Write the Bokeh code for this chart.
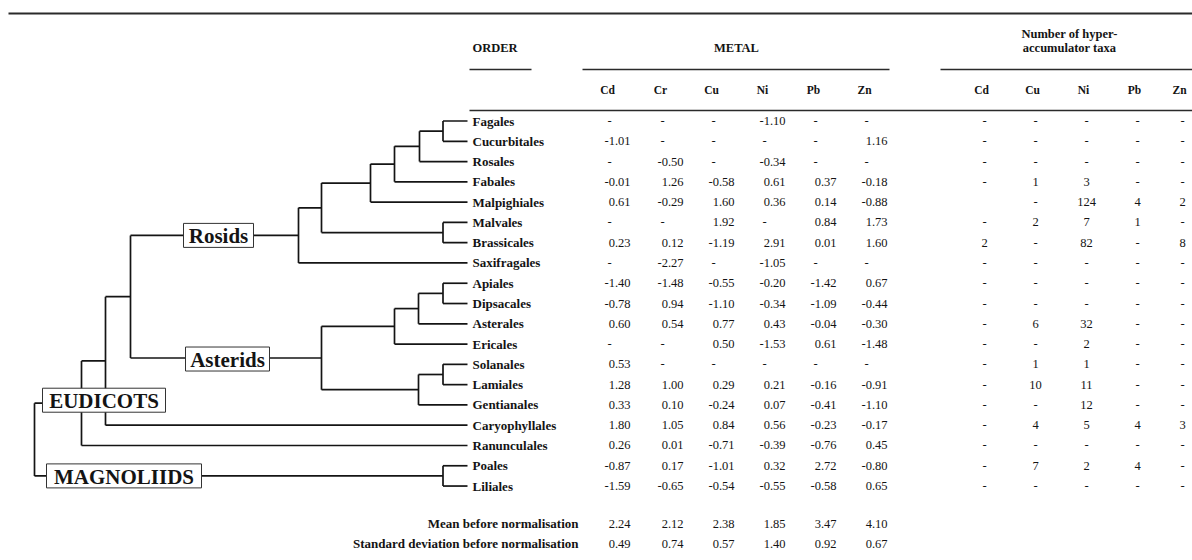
from bokeh.plotting import figure
from bokeh.models import Range1d, ColumnDataSource
from bokeh.embed import file_html
from bokeh.resources import INLINE
from bokeh.core.properties import value

# ---------------- data ----------------
orders = ["Fagales", "Cucurbitales", "Rosales", "Fabales", "Malpighiales",
          "Malvales", "Brassicales", "Saxifragales", "Apiales", "Dipsacales",
          "Asterales", "Ericales", "Solanales", "Lamiales", "Gentianales",
          "Caryophyllales", "Ranunculales", "Poales", "Liliales"]

metals = ["Cd", "Cr", "Cu", "Ni", "Pb", "Zn"]
N = None
metal_cd = [N, -1.01, N, -0.01, 0.61, N, 0.23, N, -1.40, -0.78, 0.60, N, 0.53, 1.28, 0.33, 1.80, 0.26, -0.87, -1.59]
metal_cr = [N, N, -0.50, 1.26, -0.29, N, 0.12, -2.27, -1.48, 0.94, 0.54, N, N, 1.00, 0.10, 1.05, 0.01, 0.17, -0.65]
metal_cu = [N, N, N, -0.58, 1.60, 1.92, -1.19, N, -0.55, -1.10, 0.77, 0.50, N, 0.29, -0.24, 0.84, -0.71, -1.01, -0.54]
metal_ni = [-1.10, N, -0.34, 0.61, 0.36, N, 2.91, -1.05, -0.20, -0.34, 0.43, -1.53, N, 0.21, 0.07, 0.56, -0.39, 0.32, -0.55]
metal_pb = [N, N, N, 0.37, 0.14, 0.84, 0.01, N, -1.42, -1.09, -0.04, 0.61, N, -0.16, -0.41, -0.23, -0.76, 2.72, -0.58]
metal_zn = [N, 1.16, N, -0.18, -0.88, 1.73, 1.60, N, 0.67, -0.44, -0.30, -1.48, N, -0.91, -1.10, -0.17, 0.45, -0.80, 0.65]

mean_before = [2.24, 2.12, 2.38, 1.85, 3.47, 4.10]
sd_before = [0.49, 0.74, 0.57, 1.40, 0.92, 0.67]

hyper_metals = ["Cd", "Cu", "Ni", "Pb", "Zn"]
# None = "-", "" = blank cell
hyp_cd = [N, N, N, N, "", N, 2, N, N, N, N, N, N, N, N, N, N, N, N]
hyp_cu = [N, N, N, 1, N, 2, N, N, N, N, 6, N, 1, 10, N, 4, N, 7, N]
hyp_ni = [N, N, N, 3, 124, 7, 82, N, N, N, 32, 2, 1, 11, 12, 5, N, 2, N]
hyp_pb = [N, N, N, N, 4, 1, N, N, N, N, N, N, N, N, N, 4, N, 4, N]
hyp_zn = [N, N, N, N, 2, N, 8, N, N, N, N, N, N, N, N, 3, N, N, N]

# cladogram topology: (clade label, node x, children)
tree = ("root", 34, [
    ("EUDICOTS", 81, [
        (None, 105, [
            (None, 130, [
                ("Rosids", 298, [
                    (None, 321, [
                        (None, 370, [
                            (None, 394, [
                                (None, 419, [
                                    (None, 442.5, ["Fagales", "Cucurbitales"]),
                                    "Rosales"]),
                                "Fabales"]),
                            "Malpighiales"]),
                        (None, 442.5, ["Malvales", "Brassicales"])]),
                    "Saxifragales"]),
                ("Asterids", 321, [
                    (None, 394, [
                        (None, 418, [
                            (None, 442.5, ["Apiales", "Dipsacales"]),
                            "Asterales"]),
                        "Ericales"]),
                    (None, 418, [
                        (None, 442.5, ["Solanales", "Lamiales"]),
                        "Gentianales"])])]),
            "Caryophyllales"]),
        "Ranunculales"]),
    ("MAGNOLIIDS", 442.5, ["Poales", "Liliales"])])

# ---------------- layout ----------------
ROW0, ROWH = 120.5, 20.28
row_y = {o: ROW0 + i * ROWH for i, o in enumerate(orders)}
LEAF_X = 467
LABEL_X = 472
metal_x = [607, 660, 711, 762, 813, 864]
hyper_x = [984, 1035, 1086, 1137, 1182]

FONT = value("Liberation Serif")
INK = "#141414"

p = figure(width=1192, height=560, x_range=Range1d(0, 1192), y_range=Range1d(560, 0),
           output_backend="svg", toolbar_location=None, min_border=0,
           x_axis_location=None, y_axis_location=None)
p.grid.visible = False
p.outline_line_color = None
p.background_fill_color = "white"
p.border_fill_color = "white"

# tree segments
seg = dict(x0=[], y0=[], x1=[], y1=[])
clade_pos = {}


def add(x0, y0, x1, y1):
    seg["x0"].append(x0); seg["y0"].append(y0)
    seg["x1"].append(x1); seg["y1"].append(y1)


def walk(node):
    if isinstance(node, str):
        return row_y[node], LEAF_X
    label, x, children = node
    ys = []
    for ch in children:
        cy, cx = walk(ch)
        add(x, cy, cx, cy)
        ys.append(cy)
    add(x, min(ys), x, max(ys))
    y = (min(ys) + max(ys)) / 2
    if label:
        clade_pos[label] = y
    return y, x


walk(tree)
p.segment(x0="x0", y0="y0", x1="x1", y1="y1", source=ColumnDataSource(seg),
          line_color=INK, line_width=1.7)

# clade label boxes (white filled, drawn over the branches)
boxes = {"Rosids": (183, 253), "Asterids": (185, 269),
         "EUDICOTS": (42, 165), "MAGNOLIIDS": (46, 201)}
box_dy = {"Rosids": 0, "Asterids": 1, "EUDICOTS": -3, "MAGNOLIIDS": 0}
bx = dict(left=[], right=[], top=[], bottom=[], cx=[], cy=[], t=[])
for name, (l, r) in boxes.items():
    cy = clade_pos[name] + box_dy[name]
    bx["left"].append(l); bx["right"].append(r)
    bx["top"].append(cy - 12); bx["bottom"].append(cy + 12)
    bx["cx"].append((l + r) / 2); bx["cy"].append(cy + 1); bx["t"].append(name)
bsrc = ColumnDataSource(bx)
p.quad(left="left", right="right", top="top", bottom="bottom", source=bsrc,
       fill_color="white", line_color="#333333", line_width=1)
p.text(x="cx", y="cy", text="t", source=bsrc, text_font=FONT, text_font_size="21px",
       text_font_style="bold", text_align="center", text_baseline="middle", text_color=INK)

# order names
p.text(x=[LABEL_X] * len(orders), y=[row_y[o] for o in orders], text=orders,
       text_font=FONT, text_font_size="13px", text_font_style="bold",
       text_align="left", text_baseline="middle", text_color=INK)

# table rules
rules = dict(x0=[8, 469, 582, 940, 469], x1=[1192, 531, 889, 1192, 1192],
             y=[13, 69, 69, 69, 110], w=[2, 1.5, 1.5, 1.5, 1.5])
p.segment(x0="x0", y0="y", x1="x1", y1="y", line_width="w", line_color="#2a2a2a",
          source=ColumnDataSource(rules))

# headers
hdr_bold = dict(text_font=FONT, text_font_style="bold", text_baseline="middle", text_color=INK)
p.text(x=[LABEL_X], y=[47], text=["ORDER"], text_font_size="12.5px", text_align="left", **hdr_bold)
p.text(x=[736], y=[47], text=["METAL"], text_font_size="12.5px", text_align="center", **hdr_bold)
p.text(x=[1069, 1069], y=[33, 47], text=["Number of hyper-", "accumulator taxa"],
       text_font_size="12.5px", text_align="center", **hdr_bold)
p.text(x=metal_x, y=[89] * 6, text=metals, text_font_size="11.5px", text_align="center", **hdr_bold)
p.text(x=[h - 3 for h in hyper_x], y=[89] * 5, text=hyper_metals, text_font_size="11.5px",
       text_align="center", **hdr_bold)

# metal values
metal_cols = [metal_cd, metal_cr, metal_cu, metal_ni, metal_pb, metal_zn]
num = dict(x=[], y=[], t=[])
dash = dict(x=[], y=[], t=[])
for cx, col in zip(metal_x, metal_cols):
    for o, v in zip(orders, col):
        if v is None:
            dash["x"].append(cx + 2); dash["y"].append(row_y[o]); dash["t"].append("-")
        else:
            num["x"].append(cx + 23); num["y"].append(row_y[o]); num["t"].append(f"{v:.2f}")
for i, cx in enumerate(metal_x):
    num["x"] += [cx + 23, cx + 23]
    num["y"] += [523, 543]
    num["t"] += [f"{mean_before[i]:.2f}", f"{sd_before[i]:.2f}"]

reg = dict(text_font=FONT, text_font_size="12.5px", text_baseline="middle", text_color=INK)
p.text(x="x", y="y", text="t", source=ColumnDataSource(num), text_align="right", **reg)

# hyperaccumulator counts
hyp_cols = [hyp_cd, hyp_cu, hyp_ni, hyp_pb, hyp_zn]
hc = dict(x=[], y=[], t=[])
for cx, col in zip(hyper_x, hyp_cols):
    for o, v in zip(orders, col):
        if v is None:
            dash["x"].append(cx); dash["y"].append(row_y[o]); dash["t"].append("-")
        elif v != "":
            hc["x"].append(cx); hc["y"].append(row_y[o]); hc["t"].append(str(v))
p.text(x="x", y="y", text="t", source=ColumnDataSource(hc), text_align="center", **reg)
p.text(x="x", y="y", text="t", source=ColumnDataSource(dash), text_align="center", **reg)

# summary row labels
p.text(x=[578, 578], y=[523, 543],
       text=["Mean before normalisation", "Standard deviation before normalisation"],
       text_font=FONT, text_font_size="13px", text_font_style="bold",
       text_align="right", text_baseline="middle", text_color=INK)

open("out.html", "w").write(file_html(p, INLINE))
